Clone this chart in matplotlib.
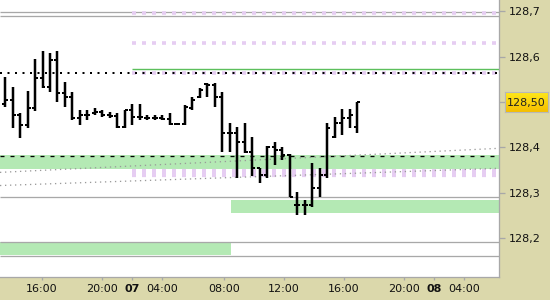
"""
plot.py - intraday OHLC bar chart with support / resistance levels.
"""

import numpy as np
import matplotlib
matplotlib.use("Agg")
import matplotlib.pyplot as plt

plt.rcParams["font.family"] = ["DejaVu Sans"]
plt.rcParams["lines.scale_dashes"] = False

PX = 0.72  # points per pixel at dpi=100

# ─── data ──────────────────────────────────────────────────────────────────────
opens = [128.496, 128.504, 128.471, 128.449, 128.487, 128.553, 128.533, 128.593,
         128.520, 128.511, 128.465, 128.471, 128.476, 128.478, 128.471, 128.469,
         128.445, 128.482, 128.467, 128.465, 128.465, 128.465, 128.463, 128.452,
         128.452, 128.487, 128.511, 128.540, 128.537, 128.511, 128.432, 128.432,
         128.412, 128.390, 128.355, 128.339, 128.401, 128.394, 128.383, 128.273,
         128.273, 128.273, 128.311, 128.339, 128.423, 128.454, 128.465, 128.445]
highs = [128.555, 128.533, 128.476, 128.524, 128.595, 128.612, 128.608, 128.612,
         128.544, 128.522, 128.482, 128.482, 128.487, 128.482, 128.478, 128.476,
         128.482, 128.496, 128.496, 128.471, 128.471, 128.471, 128.476, 128.454,
         128.493, 128.511, 128.531, 128.542, 128.542, 128.522, 128.454, 128.445,
         128.454, 128.423, 128.355, 128.403, 128.412, 128.401, 128.385, 128.302,
         128.284, 128.366, 128.355, 128.454, 128.467, 128.485, 128.485, 128.500]
lows = [128.489, 128.443, 128.421, 128.443, 128.480, 128.531, 128.522, 128.500,
        128.489, 128.460, 128.449, 128.460, 128.471, 128.467, 128.465, 128.443,
        128.443, 128.449, 128.460, 128.460, 128.460, 128.460, 128.449, 128.449,
        128.449, 128.482, 128.509, 128.511, 128.489, 128.390, 128.390, 128.333,
        128.388, 128.337, 128.322, 128.333, 128.361, 128.372, 128.291, 128.251,
        128.251, 128.269, 128.291, 128.333, 128.421, 128.427, 128.443, 128.432]
closes = [128.504, 128.471, 128.449, 128.487, 128.553, 128.533, 128.593, 128.520,
          128.511, 128.465, 128.471, 128.471, 128.478, 128.471, 128.469, 128.445,
          128.482, 128.467, 128.467, 128.465, 128.465, 128.463, 128.452, 128.452,
          128.489, 128.504, 128.526, 128.537, 128.511, 128.432, 128.432, 128.412,
          128.390, 128.355, 128.339, 128.401, 128.394, 128.383, 128.291, 128.273,
          128.273, 128.311, 128.339, 128.443, 128.454, 128.465, 128.471, 128.500]

last_price = 128.50

tick_pos = [4.93, 12.93, 16.93, 20.93, 29.2, 37.2, 45.2, 53.2, 57.2, 61.2]
tick_lbl = ["16:00", "20:00", "07", "04:00", "08:00", "12:00", "16:00", "20:00", "08", "04:00"]
price_ticks = [128.2, 128.3, 128.4, 128.5, 128.6, 128.7]

day_start = 16.93        # 07 00:00 - where today's levels begin
session_split = 30.13

grey_levels = [128.699, 128.689, 128.290, 128.191, 128.160]
pink_levels = [128.696, 128.631, 128.563]
pink_low = [128.347, 128.339]
green_line = 128.572
dotted_black = 128.563
dashed_black = 128.381
band_full = (128.352, 128.383)
band_right = (128.255, 128.284)
band_left = (128.163, 128.191)
trend_upper = (128.345, 128.398)
trend_lower = (128.316, 128.354)

KHAKI = "#dbd8ab"
GREEN = "#b4e9b4"
PINK = "#e6cdf2"
GREY = "#a8a8a8"

# ─── figure ────────────────────────────────────────────────────────────────────
fig = plt.figure(figsize=(5.5, 3.0), dpi=100, facecolor=KHAKI)
ax = fig.add_axes([0, 23 / 300, 499 / 550, 277 / 300])
ax.set_facecolor("white")
x0, x1 = -0.667, 65.87
ax.set_xlim(x0, x1)
ax.set_ylim(128.1145, 128.7247)

# bands
ax.fill_between([x0, x1], *band_full, color=GREEN, lw=0, zorder=1)
ax.fill_between([session_split, x1], *band_right, color=GREEN, lw=0, zorder=1)
ax.fill_between([x0, session_split], *band_left, color=GREEN, lw=0, zorder=1)

# horizontal levels
ax.hlines(grey_levels, x0, x1, color=GREY, lw=1.3 * PX, zorder=2)
ax.hlines(pink_levels, day_start, x1, color=PINK, lw=3.6 * PX,
          linestyles=[(0, (4 * PX, 6 * PX))], zorder=2)
ax.hlines(pink_low, day_start, x1, color=PINK, lw=4.2 * PX,
          linestyles=[(0, (4 * PX, 6 * PX))], zorder=2)
ax.hlines(green_line, day_start, x1, color="#5cbf5c", lw=1.4 * PX, zorder=3)
ax.hlines(dotted_black, x0, x1, color="black", lw=2 * PX,
          linestyles=[(0, (2 * PX, 5.5 * PX))], zorder=3)
ax.hlines(dashed_black, x0, x1, color="black", lw=1.3 * PX,
          linestyles=[(0, (4 * PX, 6 * PX))], zorder=3)
for y0, y1 in (trend_upper, trend_lower):
    ax.plot([x0, x1], [y0, y1], color="#9a9a9a", lw=1.3 * PX,
            ls=(0, (1.3 * PX, 3.7 * PX)), zorder=3)

# OHLC bars
x = np.arange(len(opens))
w = 0.4
ax.vlines(x, lows, highs, color="black", lw=2.5 * PX, zorder=5)
ax.hlines(opens, x - w, x, color="black", lw=2.0 * PX, zorder=5)
ax.hlines(closes, x, x + w, color="black", lw=2.0 * PX, zorder=5)

# axes cosmetics
for s in ("top", "left"):
    ax.spines[s].set_visible(False)
for s in ("right", "bottom"):
    ax.spines[s].set_color(GREY)
    ax.spines[s].set_linewidth(1.3 * PX)

ax.set_xticks(tick_pos)
ax.set_xticklabels(tick_lbl, fontsize=8, color="#111111")
for t in ax.get_xticklabels():
    if t.get_text() in ("07", "08"):
        t.set_fontweight("bold")
ax.tick_params(axis="x", direction="out", length=3 * PX, width=1.3 * PX,
               color=GREY, pad=3)

ax.yaxis.tick_right()
ax.set_yticks(price_ticks)
ax.set_yticklabels(["" if abs(p - last_price) < 1e-9 else f"{p:.1f}".replace(".", ",")
                    for p in price_ticks], fontsize=8, color="#111111")
ax.tick_params(axis="y", direction="out", length=6 * PX, width=1.3 * PX,
               color=GREY, pad=3)
ax.get_yticklines()[2 * price_ticks.index(128.5) + 1].set_color("black")

# last price box with yellow gradient
fy = (ax.transData.transform((0, last_price))[1]) / 300
bax = fig.add_axes([505 / 550, fy - 10 / 300, 43 / 550, 20 / 300])
grad = np.linspace(0, 1, 20).reshape(-1, 1)
bax.imshow(grad, aspect="auto", cmap=matplotlib.colors.LinearSegmentedColormap.from_list(
    "gold", ["#ffe81a", "#f5bf00"]), extent=(0, 1, 0, 1), origin="upper")
bax.set_xticks([]); bax.set_yticks([])
for s in bax.spines.values():
    s.set_color("#b8b8b8")
bax.text(0.5, 0.47, "128,50", ha="center", va="center", fontsize=8,
         color="#222222", transform=bax.transAxes)

plt.savefig("out.png", dpi=100, facecolor=KHAKI)
